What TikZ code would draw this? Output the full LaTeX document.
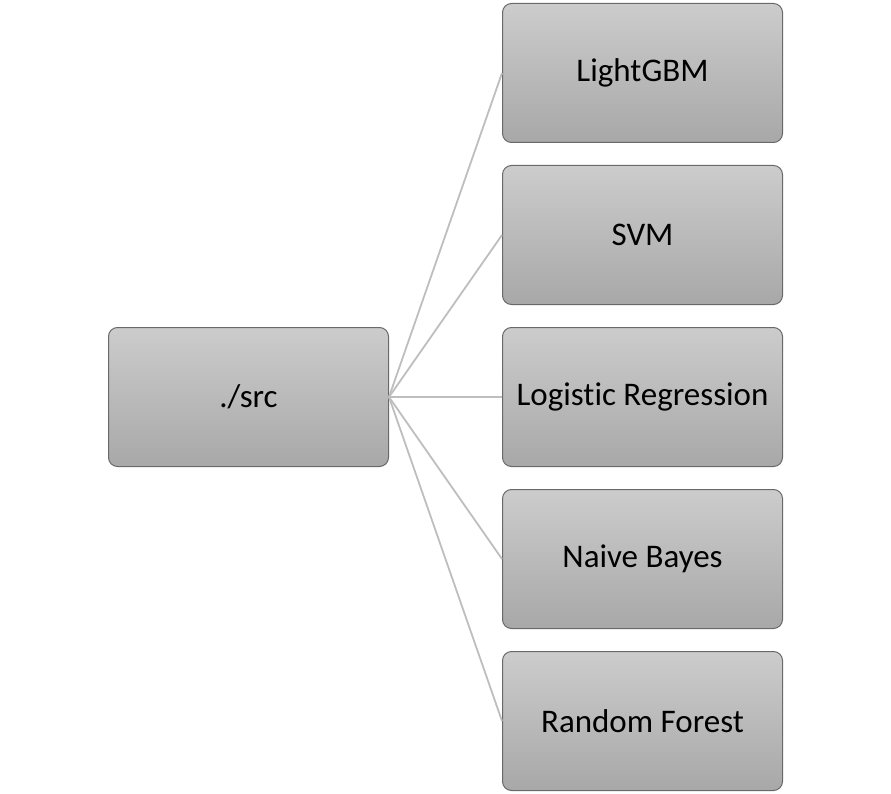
\documentclass[tikz,border=0pt]{standalone}
\usepackage{fontspec}
\setmainfont{Carlito}[Ligatures=NoCommon]
\usetikzlibrary{positioning}
\definecolor{boxtop}{RGB}{204,204,204}
\definecolor{boxbottom}{RGB}{168,168,168}
\definecolor{boxline}{RGB}{105,105,105}
\definecolor{linkgray}{RGB}{190,190,190}
\tikzset{
  model/.style={draw=boxline,line width=1pt,rounded corners=9pt,top color=boxtop,bottom color=boxbottom,minimum width=280pt,minimum height=139pt,inner sep=0pt,font=\fontsize{33}{38}\selectfont},
  link/.style={draw=linkgray,line width=1.8pt}
}
\begin{document}
\begin{tikzpicture}[x=1pt,y=-1pt,node distance=22pt and 113pt]
  \useasboundingbox (0,0) rectangle (891,794);
  \node[model] (lgbm) at (642.5,73) {LightGBM};
  \node[model,below=of lgbm] (svm) {SVM};
  \node[model,below=of svm] (logreg) {Logistic Regression};
  \node[model,below=of logreg] (bayes) {Naive Bayes};
  \node[model,below=of bayes] (forest) {Random Forest};
  \node[model,left=of logreg] (src) {./src};
  \foreach \m in {lgbm,svm,logreg,bayes,forest}
    \draw[link] (src.east) -- (\m.west);
\end{tikzpicture}
\end{document}
